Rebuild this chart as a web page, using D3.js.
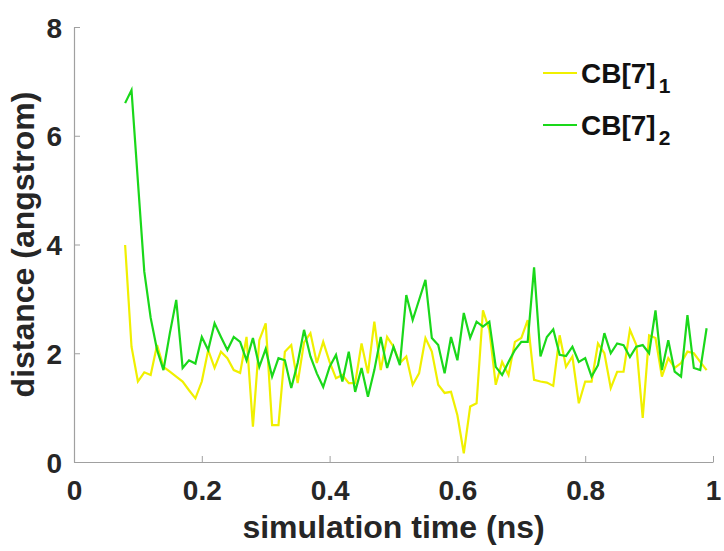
<!DOCTYPE html>
<html>
<head>
<meta charset="utf-8">
<script src="https://cdn.jsdelivr.net/npm/d3@7"></script>
<style>
  html, body { margin: 0; padding: 0; background: #fff; }
  svg { display: block; font-family: "Liberation Sans", Arial, sans-serif; }
</style>
</head>
<body>
<svg id="chart" width="724" height="551"></svg>
<script>
// Sampling times (ns), one every 0.01 ns from 0.08 to 0.99
const times = d3.range(8, 100).map(i => i / 100);

// Distance (angstrom) for CB[7]_1
const cb7First = [
  3.99, 2.12, 1.48, 1.65, 1.60, 2.15, 1.75, 1.66, 1.57, 1.48,
  1.32, 1.17, 1.48, 2.06, 1.73, 2.03, 1.91, 1.69, 1.64, 2.30,
  0.65, 2.24, 2.55, 0.68, 0.68, 2.03, 2.15, 1.45, 2.20, 2.37,
  1.82, 2.21, 1.84, 1.54, 1.60, 1.45, 1.45, 2.18, 1.63, 2.58,
  1.69, 2.30, 2.12, 1.82, 1.94, 1.42, 1.63, 2.28, 2.03, 1.42,
  1.27, 1.29, 0.86, 0.16, 1.02, 1.08, 2.79, 2.43, 1.42, 1.84,
  1.60, 2.21, 2.28, 2.61, 1.51, 1.48, 1.46, 1.40, 2.33, 1.75,
  1.94, 1.08, 1.48, 1.48, 2.18, 2.00, 1.36, 1.66, 1.66, 2.43,
  2.15, 0.81, 2.33, 2.28, 1.57, 1.91, 1.73, 1.82, 2.03, 2.00,
  1.84, 1.69
];

// Distance (angstrom) for CB[7]_2
const cb7Second = [
  6.60, 6.84, 5.16, 3.50, 2.65, 2.06, 1.69, 2.37, 2.98, 1.73,
  1.87, 1.81, 2.30, 2.06, 2.55, 2.30, 2.06, 2.30, 2.21, 1.87,
  2.28, 1.75, 2.08, 1.57, 1.91, 1.87, 1.36, 1.82, 2.43, 1.94,
  1.63, 1.38, 1.75, 1.97, 1.48, 2.03, 1.29, 1.73, 1.20, 1.69,
  2.30, 1.73, 2.12, 1.78, 3.07, 2.61, 2.98, 3.35, 2.28, 2.15,
  1.63, 2.30, 1.87, 2.74, 2.28, 2.58, 2.49, 2.58, 1.75, 1.60,
  1.84, 2.06, 2.21, 2.21, 3.58, 1.94, 2.30, 2.44, 1.97, 1.95,
  2.12, 1.84, 1.91, 1.57, 1.78, 2.37, 2.00, 2.18, 2.15, 1.93,
  2.12, 2.15, 2.00, 2.79, 1.69, 2.24, 1.66, 1.57, 2.70, 1.73,
  1.69, 2.46
];

const seriesNames = ["CB[7]", "CB[7]"];
const seriesSubs = ["1", "2"];
const seriesColors = ["#f0f000", "#1ad81a"];
const xTicks = [0, 0.2, 0.4, 0.6, 0.8, 1];
const yTicks = [0, 2, 4, 6, 8];

const svg = d3.select("#chart");
const plotLeft = 74, plotRight = 713, plotTop = 27, plotBottom = 462;

const x = d3.scaleLinear().domain([0, 1]).range([plotLeft, plotRight]);
const y = d3.scaleLinear().domain([0, 8]).range([plotBottom, plotTop]);

// Axes: only left and bottom spines, with inward ticks
const axisColor = "#a0a0a0";
const xAxis = svg.append("g").attr("transform", `translate(0,${plotBottom})`)
  .call(d3.axisBottom(x).tickValues(xTicks).tickSizeInner(-6).tickSizeOuter(0)
    .tickFormat(d3.format("~g")));
const yAxis = svg.append("g").attr("transform", `translate(${plotLeft},0)`)
  .call(d3.axisLeft(y).tickValues(yTicks).tickSizeInner(-6).tickSizeOuter(0)
    .tickFormat(d3.format("~g")));

[xAxis, yAxis].forEach(g => {
  g.select(".domain").attr("stroke", axisColor).attr("stroke-width", 1.2);
  g.selectAll(".tick line").attr("stroke", axisColor).attr("stroke-width", 1);
  g.selectAll(".tick text")
    .attr("fill", "#262626")
    .attr("font-size", 28)
    .attr("font-weight", "bold")
    .attr("font-family", "'Liberation Sans', Arial, sans-serif");
});
xAxis.selectAll(".tick text").attr("y", 18).attr("dy", "0.71em");
yAxis.selectAll(".tick text").attr("x", -12).attr("dy", "0.36em");

// Series lines
const line = d3.line().x((d, i) => x(times[i])).y(d => y(d));
[cb7First, cb7Second].forEach((vals, k) => {
  svg.append("path")
    .datum(vals)
    .attr("fill", "none")
    .attr("stroke", seriesColors[k])
    .attr("stroke-width", 2.2)
    .attr("stroke-linejoin", "miter")
    .attr("d", line);
});

// Axis titles
svg.append("text")
  .attr("x", (plotLeft + plotRight) / 2)
  .attr("y", 538)
  .attr("text-anchor", "middle")
  .attr("font-size", 32)
  .attr("font-weight", "bold")
  .attr("fill", "#262626")
  .text("simulation time (ns)");

svg.append("text")
  .attr("transform", `translate(34,${(plotTop + plotBottom) / 2}) rotate(-90)`)
  .attr("text-anchor", "middle")
  .attr("font-size", 32)
  .attr("font-weight", "bold")
  .attr("fill", "#262626")
  .text("distance (angstrom)");

// Legend
const legend = svg.append("g");
seriesNames.forEach((name, k) => {
  const yy = 73 + k * 52;
  legend.append("line")
    .attr("x1", 543).attr("x2", 577)
    .attr("y1", yy).attr("y2", yy)
    .attr("stroke", seriesColors[k])
    .attr("stroke-width", 2);
  const t = legend.append("text")
    .attr("x", 581)
    .attr("y", yy + 10)
    .attr("font-size", 28)
    .attr("font-weight", "bold")
    .attr("fill", "#111");
  t.append("tspan").text(name);
  t.append("tspan")
    .attr("font-size", 21)
    .attr("dx", 3)
    .attr("dy", 10)
    .text(seriesSubs[k]);
});
</script>
</body>
</html>
